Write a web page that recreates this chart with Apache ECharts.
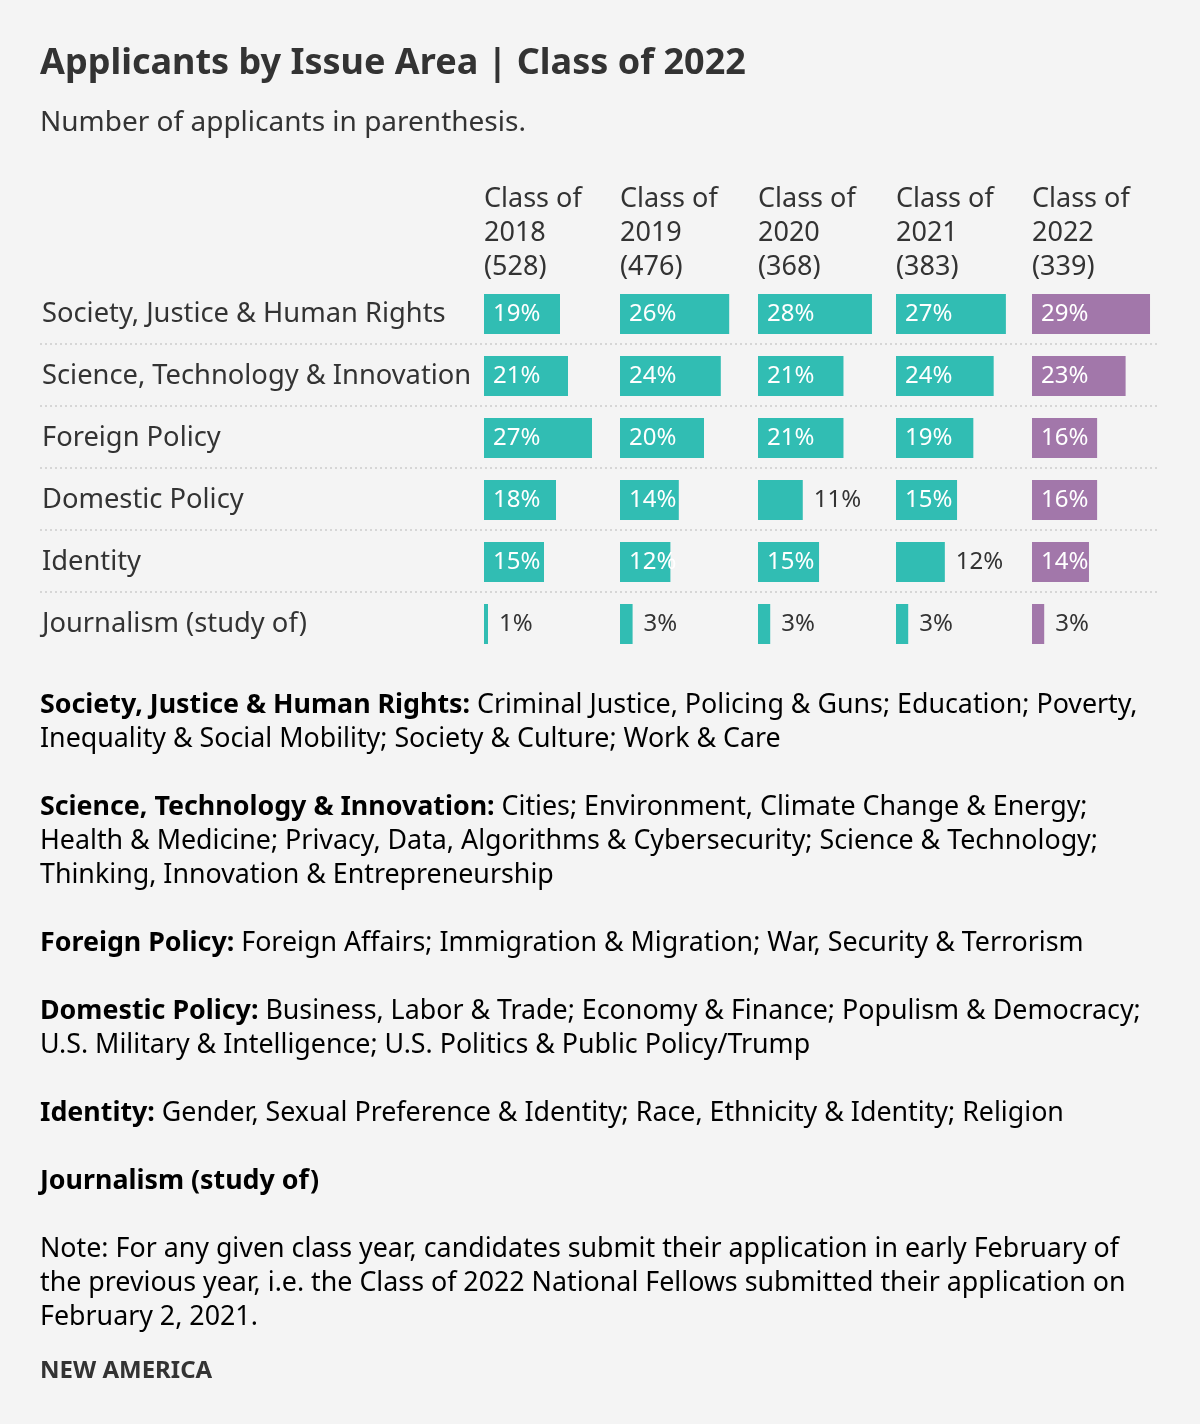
<!DOCTYPE html>
<html>
<head>
<meta charset="utf-8">
<script src="https://cdn.jsdelivr.net/npm/echarts@6/dist/echarts.min.js"></script>
<style>
html,body{margin:0;padding:0;background:#f4f4f4;}
#chart{width:1200px;height:1424px;}
</style>
</head>
<body>
<div id="chart"></div>
<script>
// ---------- DATA ----------
const categories = ['Society, Justice & Human Rights', 'Science, Technology & Innovation', 'Foreign Policy', 'Domestic Policy', 'Identity', 'Journalism (study of)'];
const classYears = ['2018', '2019', '2020', '2021', '2022'];
const applicants = [528, 476, 368, 383, 339];
const pct2018 = [19, 21, 27, 18, 15, 1];
const pct2019 = [26, 24, 20, 14, 12, 3];
const pct2020 = [28, 21, 21, 11, 15, 3];
const pct2021 = [27, 24, 19, 15, 12, 3];
const pct2022 = [29, 23, 16, 16, 14, 3];
const seriesValues = [pct2018, pct2019, pct2020, pct2021, pct2022];

const titleText = 'Applicants by Issue Area | Class of 2022';
const subtitleText = 'Number of applicants in parenthesis.';
const notes = [
  { bold: 'Society, Justice & Human Rights:', lines: [' Criminal Justice, Policing & Guns; Education; Poverty,', 'Inequality & Social Mobility; Society & Culture; Work & Care'] },
  { bold: 'Science, Technology & Innovation:', lines: [' Cities; Environment, Climate Change & Energy;', 'Health & Medicine; Privacy, Data, Algorithms & Cybersecurity; Science & Technology;', 'Thinking, Innovation & Entrepreneurship'] },
  { bold: 'Foreign Policy:', lines: [' Foreign Affairs; Immigration & Migration; War, Security & Terrorism'] },
  { bold: 'Domestic Policy:', lines: [' Business, Labor & Trade; Economy & Finance; Populism & Democracy;', 'U.S. Military & Intelligence; U.S. Politics & Public Policy/Trump'] },
  { bold: 'Identity:', lines: [' Gender, Sexual Preference & Identity; Race, Ethnicity & Identity; Religion'] },
  { bold: 'Journalism (study of)', lines: [''] }
];
const noteLines = ['Note: For any given class year, candidates submit their application in early February of', 'the previous year, i.e. the Class of 2022 National Fellows submitted their application on', 'February 2, 2021.'];
const sourceText = 'NEW AMERICA';

// ---------- LAYOUT / STYLE ----------
const FONT = '"Noto Sans", sans-serif';
const TEXT = '#333333';
const TEAL = '#31bdb3';
const PURPLE = '#a277aa';
const colLeft = [484, 620, 758, 896, 1032];
const pxPerPct = [4.0, 4.2, 4.07, 4.07, 4.07];
const colWidth = 130;
const rowH = 62;
const gridTop = 283;
const insideMinPx = 50;
const BODY = 26.8;

const grids = [], xAxes = [], yAxes = [], series = [];
classYears.forEach((yr, i) => {
  grids.push({ left: colLeft[i], top: gridTop, width: colWidth, height: rowH * categories.length });
  xAxes.push({ type: 'value', gridIndex: i, min: 0, max: colWidth / pxPerPct[i], show: false });
  yAxes.push({
    type: 'category', gridIndex: i, data: categories, inverse: true,
    axisLine: { show: false }, axisTick: { show: false }, splitLine: { show: false },
    axisLabel: i === 0 ? { show: true, margin: colLeft[0] - 42, align: 'left', fontFamily: FONT, fontSize: 27.3, color: TEXT } : { show: false }
  });
  const color = i === classYears.length - 1 ? PURPLE : TEAL;
  series.push({
    type: 'bar', xAxisIndex: i, yAxisIndex: i, barWidth: 40, silent: true,
    itemStyle: { color: color },
    data: seriesValues[i].map(v => {
      const inside = v * pxPerPct[i] >= insideMinPx;
      return {
        value: v,
        label: inside
          ? { show: true, position: 'insideLeft', distance: 9, color: '#ffffff', fontFamily: FONT, fontSize: 24, formatter: '{c}%' }
          : { show: true, position: 'right', distance: 11, color: TEXT, fontFamily: FONT, fontSize: 24, formatter: '{c}%' }
      };
    })
  });
});

// separator grid (dotted lines between rows)
const sepIndex = classYears.length;
grids.push({ left: 40, top: gridTop - 1 + rowH, width: 1118, height: rowH * (categories.length - 2) });
xAxes.push({ type: 'value', gridIndex: sepIndex, show: false, min: 0, max: 1 });
yAxes.push({
  type: 'value', gridIndex: sepIndex, min: 0, max: categories.length - 2, interval: 1,
  axisLine: { show: false }, axisTick: { show: false }, axisLabel: { show: false },
  splitLine: { show: true, lineStyle: { type: [2, 3], width: 2, color: '#d6d6d6' } }
});

// ---------- TEXT GRAPHICS ----------
const graphics = [];
graphics.push({ type: 'text', x: 40, y: 64, style: { text: titleText, font: 'bold 36px ' + FONT, fill: TEXT, verticalAlign: 'middle' } });
graphics.push({ type: 'text', x: 40, y: 123, style: { text: subtitleText, font: '28px ' + FONT, fill: TEXT, verticalAlign: 'middle' } });
classYears.forEach((yr, i) => {
  graphics.push({
    type: 'text', left: colLeft[i], top: 182,
    style: { text: 'Class of\n' + yr + '\n(' + applicants[i] + ')', font: '27px ' + FONT, fill: TEXT, lineHeight: 34 }
  });
});
const noteTops = [692, 794, 930, 998, 1100, 1168];
const rich = {
  b: { fontFamily: FONT, fontWeight: 'bold', fontSize: BODY, color: TEXT, lineHeight: 34 },
  r: { fontFamily: FONT, fontSize: BODY, color: TEXT, lineHeight: 34 }
};
notes.forEach((n, k) => {
  let txt = '{b|' + n.bold + '}';
  n.lines.forEach((ln, j) => {
    if (j > 0) txt += '\n';
    if (ln) txt += '{r|' + ln + '}';
  });
  graphics.push({ type: 'text', left: 40, top: noteTops[k], style: { text: txt, rich: rich } });
});
graphics.push({
  type: 'text', left: 40, top: 1236,
  style: { text: noteLines.map(l => '{r|' + l + '}').join('\n'), rich: rich }
});
graphics.push({ type: 'text', x: 40, y: 1371, style: { text: sourceText, font: 'bold 24px ' + FONT, fill: TEXT, verticalAlign: 'middle' } });

const chart = echarts.init(document.getElementById('chart'), null, { renderer: 'canvas' });
chart.setOption({
  backgroundColor: '#f4f4f4',
  animation: false,
  grid: grids,
  xAxis: xAxes,
  yAxis: yAxes,
  series: series,
  graphic: graphics
});
</script>
</body>
</html>
